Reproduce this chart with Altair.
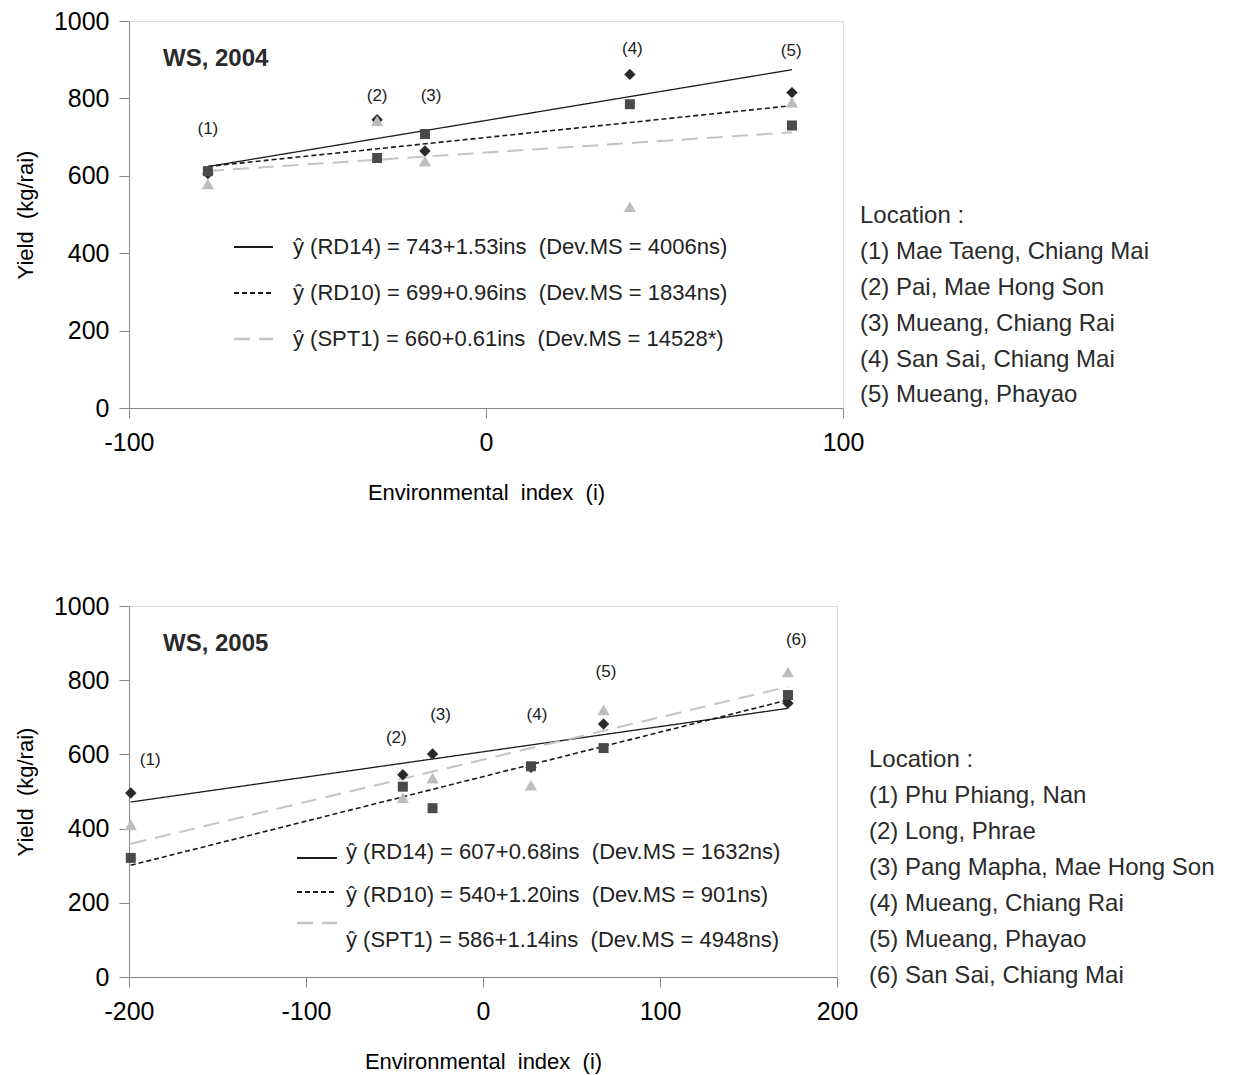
import altair as alt
import pandas as pd

FONT = "Liberation Sans"

# ---------------- WS, 2004 ----------------
loc_labels_04 = ["(1)", "(2)", "(3)", "(4)", "(5)"]
env_04 = [-77.9, -30.5, -17.1, 40.3, 85.7]
rd14_04 = [606, 745, 664, 862, 815]
rd10_04 = [612, 646, 708, 785, 730]
spt1_04 = [579, 742, 638, 520, 790]
label_x_04 = [-77.9, -30.5, -15.4, 41.0, 85.5]
label_y_04 = [722, 806, 806, 928, 922]
intercept_04 = [743, 699, 660]
slope_04 = [1.53, 0.96, 0.61]
eq_04 = [
    "ŷ (RD14) = 743+1.53ins  (Dev.MS = 4006ns)",
    "ŷ (RD10) = 699+0.96ins  (Dev.MS = 1834ns)",
    "ŷ (SPT1) = 660+0.61ins  (Dev.MS = 14528*)",
]
locations_04 = [
    "Location :",
    "(1) Mae Taeng, Chiang Mai",
    "(2) Pai, Mae Hong Son",
    "(3) Mueang, Chiang Rai",
    "(4) San Sai, Chiang Mai",
    "(5) Mueang, Phayao",
]

# ---------------- WS, 2005 ----------------
loc_labels_05 = ["(1)", "(2)", "(3)", "(4)", "(5)", "(6)"]
env_05 = [-199.0, -45.3, -28.5, 27.1, 68.1, 172.3]
rd14_05 = [496, 545, 601, 565, 682, 738]
rd10_05 = [321, 513, 455, 568, 617, 760]
spt1_05 = [410, 483, 536, 517, 720, 822]
label_x_05 = [-188, -49, -24, 30.5, 69.5, 177]
label_y_05 = [585, 644, 706, 706, 822, 908]
intercept_05 = [607, 540, 586]
slope_05 = [0.68, 1.20, 1.14]
eq_05 = [
    "ŷ (RD14) = 607+0.68ins  (Dev.MS = 1632ns)",
    "ŷ (RD10) = 540+1.20ins  (Dev.MS = 901ns)",
    "ŷ (SPT1) = 586+1.14ins  (Dev.MS = 4948ns)",
]
locations_05 = [
    "Location :",
    "(1) Phu Phiang, Nan",
    "(2) Long, Phrae",
    "(3) Pang Mapha, Mae Hong Son",
    "(4) Mueang, Chiang Rai",
    "(5) Mueang, Phayao",
    "(6) San Sai, Chiang Mai",
]

x_title = "Environmental  index  (i)"
y_title = "Yield  (kg/rai)"

varieties = ["RD14", "RD10", "SPT1"]
shapes = {"RD14": "diamond", "RD10": "square", "SPT1": "triangle-up"}
pt_colors = {"RD14": "#2a2a2a", "RD10": "#4a4a4a", "SPT1": "#bdbdbd"}
pt_sizes = {"RD14": 130, "RD10": 100, "SPT1": 150}
ln_colors = {"RD14": "#1a1a1a", "RD10": "#1a1a1a", "SPT1": "#c4c4c4"}
ln_dash = {"RD14": [1, 0], "RD10": [5, 3], "SPT1": [16, 9]}
ln_width = {"RD14": 1.3, "RD10": 1.6, "SPT1": 2.0}

one = pd.DataFrame({"a": [0]})
NEG = "datum.value < 0 ? '-' + abs(datum.value) : '' + datum.value"


def nb(s):
    return s.replace("  ", "\u00a0\u00a0")


def text_at(x, y, s, size=19, weight="normal", color="#222", baseline="middle"):
    return alt.Chart(one).mark_text(
        align="left", baseline=baseline, font=FONT, fontSize=size,
        fontWeight=weight, color=color,
    ).encode(x=alt.value(x), y=alt.value(y), text=alt.value(nb(s)))


def panel(env, series, intercepts, slopes, lab_x, lab_y, labs, eqs, locs,
          title, xdom, xticks, w, h, seg_x, seg_y, eq_x, eq_y, loc_x, loc_y):
    xenc = alt.X("env:Q", scale=alt.Scale(domain=xdom, nice=False, zero=False),
                 axis=alt.Axis(values=xticks, title=nb(x_title),
                               grid=False, labelFontSize=25, titleFontSize=22,
                               titleFontWeight="normal", labelExpr=NEG,
                               labelPadding=12, titlePadding=27, tickSize=10,
                               labelFlush=False))
    yenc = alt.Y("y:Q", scale=alt.Scale(domain=[0, 1000], nice=False),
                 axis=alt.Axis(values=[0, 200, 400, 600, 800, 1000],
                               title=nb(y_title), grid=False,
                               titleFontWeight="normal", labelExpr=NEG,
                               labelFontSize=25, titleFontSize=22,
                               labelPadding=10, titlePadding=16, tickSize=10))
    layers = []
    xmin, xmax = min(env), max(env)
    for v, a, b in zip(varieties, intercepts, slopes):
        ldf = pd.DataFrame({"env": [xmin, xmax], "y": [a + b * xmin, a + b * xmax]})
        layers.append(alt.Chart(ldf).mark_line(
            color=ln_colors[v], strokeDash=ln_dash[v], strokeWidth=ln_width[v]
        ).encode(x=xenc, y=yenc))
    for v, vals in zip(varieties, series):
        pdf = pd.DataFrame({"env": env, "y": vals})
        layers.append(alt.Chart(pdf).mark_point(
            shape=shapes[v], filled=True, color=pt_colors[v], size=pt_sizes[v], opacity=1
        ).encode(x=xenc, y=yenc))
    ldf = pd.DataFrame({"env": lab_x, "y": lab_y, "t": labs})
    layers.append(alt.Chart(ldf).mark_text(
        font=FONT, fontSize=17, color="#222"
    ).encode(x=xenc, y=yenc, text="t:N"))
    layers.append(text_at(34, 38, title, size=24, weight="bold", color="#2a2a2a"))
    for i, v in enumerate(varieties):
        layers.append(alt.Chart(one).mark_rule(
            color=ln_colors[v], strokeDash=ln_dash[v], strokeWidth=ln_width[v] + 0.6
        ).encode(x=alt.value(seg_x[0]), x2=alt.value(seg_x[1]), y=alt.value(seg_y[i])))
        layers.append(text_at(eq_x, eq_y[i], eqs[i], size=22))
    for i, s in enumerate(locs):
        layers.append(text_at(loc_x, loc_y[i], s, size=24, color="#2b2b2b"))
    return alt.layer(*layers).properties(width=w, height=h)


top = panel(env_04, [rd14_04, rd10_04, spt1_04], intercept_04, slope_04,
            label_x_04, label_y_04, loc_labels_04, eq_04, locations_04,
            "WS, 2004", [-100, 100], [-100, 0, 100], 714, 387,
            seg_x=(105, 144), seg_y=[226, 272, 318], eq_x=164, eq_y=[226, 272, 318],
            loc_x=731, loc_y=[195, 231, 267, 303, 339, 374])

bottom = panel(env_05, [rd14_05, rd10_05, spt1_05], intercept_05, slope_05,
               label_x_05, label_y_05, loc_labels_05, eq_05, locations_05,
               "WS, 2005", [-200, 200], [-200, -100, 0, 100, 200], 708, 371,
               seg_x=(168, 208), seg_y=[252, 286, 317], eq_x=217, eq_y=[246, 289, 334],
               loc_x=740, loc_y=[154, 190, 226, 262, 298, 334, 370])

chart = alt.vconcat(top, bottom, spacing=89).properties(
    padding={"left": 5, "top": 0, "right": 5, "bottom": 5}
).configure_view(
    stroke="#222", strokeWidth=1
).configure_axis(
    domainColor="#111", domainWidth=1.5, tickColor="#111", tickWidth=1.3,
    labelColor="#222", titleColor="#333", labelFont=FONT, titleFont=FONT,
).configure(background="white")

chart.save("out.html", embed_options={"renderer": "svg", "actions": False})
